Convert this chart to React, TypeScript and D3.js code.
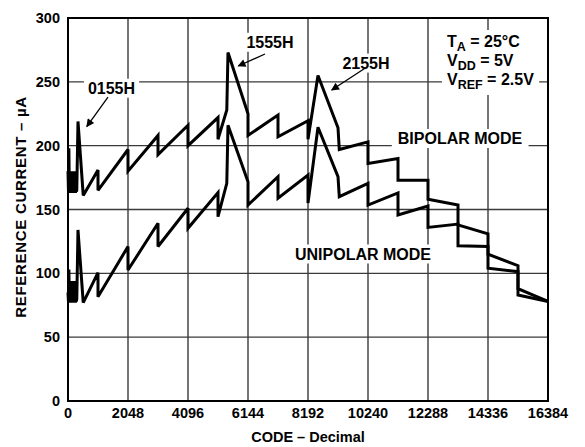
import React, { useLayoutEffect, useRef, useState } from "react";
import * as d3 from "d3";

const W = 585;
const H = 447;
const M = { left: 68, right: 37, top: 18, bottom: 46 };

const xTicks = [0, 2048, 4096, 6144, 8192, 10240, 12288, 14336, 16384];
const yTicks = [0, 50, 100, 150, 200, 250, 300];

// BIPOLAR MODE (code, µA)
const bipolarCode = [0, 15, 30, 45, 60, 75, 90, 105, 120, 135, 150, 165, 180, 195, 210, 225, 240, 255, 270, 285, 300, 341, 520, 1024, 1024, 2048, 2048, 3072, 3072, 4096, 4096, 5120, 5120, 5420, 5461, 6144, 6144, 7168, 7168, 8192, 8192, 8533, 9216, 9260, 10240, 10240, 11264, 11264, 12288, 12288, 13312, 13312, 14336, 14336, 15360, 15360, 16384];
const bipolarVal = [180, 165, 198, 164, 180, 163, 179, 164, 180, 163, 179, 164, 180, 163, 179, 164, 180, 163, 179, 164, 165, 219, 161, 181, 165, 197, 180, 208, 193, 216, 200, 222, 205, 228, 273, 225, 208, 224, 207, 219.5, 205, 255, 214, 197, 203, 186, 190, 173, 173, 158, 153.5, 138, 131, 115, 106, 88, 78];

// UNIPOLAR MODE (code, µA)
const unipolarCode = [0, 15, 30, 45, 60, 75, 90, 105, 120, 135, 150, 165, 180, 195, 210, 225, 240, 255, 270, 285, 300, 341, 520, 1024, 1024, 2048, 2048, 3072, 3072, 4096, 4096, 5120, 5120, 5420, 5461, 6144, 6144, 7168, 7168, 8192, 8192, 8533, 9216, 9260, 10240, 10240, 11264, 11264, 12288, 12288, 13312, 13312, 14336, 14336, 15360, 15360, 16384];
const unipolarVal = [85, 78, 103, 78, 94, 77, 93, 78, 94, 77, 93, 78, 94, 77, 93, 78, 94, 77, 93, 78, 80, 134, 77, 100.5, 81.7, 121, 102.6, 139.2, 121, 151, 135.3, 163.2, 144.4, 170.5, 216, 171.8, 153.5, 175.7, 158.8, 177, 155, 214.4, 175.7, 160, 170.5, 153.5, 163, 145.7, 152.7, 136, 138.6, 121.6, 121, 104, 101.3, 83, 78];

// Arrow annotations: [tailCode, tailVal] -> [headCode, headVal]
const arrowLabels = ["0155H", "1555H", "2155H"];
const arrowTails = [[1365, 238], [6724, 271.8], [10137, 260.6]];
const arrowHeads = [[640, 215], [5812, 262.4], [9000, 243.6]];
const arrowTextPos = [[1485, 245], [6894, 281], [10171, 264.7]];

const FONT = "'Liberation Sans', Arial, Helvetica, sans-serif";
const tb = { fontFamily: FONT, fontWeight: 700 as const };

function BgGroup({ pad, children }: { pad: [number, number]; children: React.ReactNode }) {
  const ref = useRef<SVGGElement>(null);
  const [box, setBox] = useState<{ x: number; y: number; w: number; h: number } | null>(null);
  useLayoutEffect(() => {
    if (ref.current) {
      const b = ref.current.getBBox();
      setBox({ x: b.x, y: b.y, w: b.width, h: b.height });
    }
  }, []);
  return (
    <g>
      {box && (
        <rect x={box.x - pad[0]} y={box.y - pad[1]} width={box.w + 2 * pad[0]} height={box.h + 2 * pad[1]} fill="white" />
      )}
      <g ref={ref}>{children}</g>
    </g>
  );
}

export default function App() {
  const x = d3.scaleLinear().domain([0, 16384]).range([M.left, W - M.right]);
  const y = d3.scaleLinear().domain([0, 300]).range([H - M.bottom, M.top]);

  const line = d3
    .line<[number, number]>()
    .x((d) => x(d[0]))
    .y((d) => y(d[1]));

  const bip: [number, number][] = bipolarCode.map((c, i) => [c, bipolarVal[i]]);
  const uni: [number, number][] = unipolarCode.map((c, i) => [c, unipolarVal[i]]);

  const x0 = x(0), x1 = x(16384), y0 = y(0), y1 = y(300);
  const grid = "#3a3a3a";
  const fs = 16;

  return (
    <svg
      width={W}
      height={H}
      style={{ position: "absolute", left: 0, top: 0, background: "white" }}
    >
      <defs>
        <marker id="ah" viewBox="0 0 10 10" refX="9" refY="5" markerWidth="11" markerHeight="8" orient="auto" markerUnits="userSpaceOnUse">
          <path d="M0,0 L10,5 L0,10 z" fill="black" />
        </marker>
      </defs>
      <rect x={0} y={0} width={W} height={H} fill="white" />

      {/* grid */}
      {xTicks.slice(1, -1).map((t) => (
        <line key={"gx" + t} x1={x(t)} x2={x(t)} y1={y1} y2={y0} stroke={grid} strokeWidth={1.4} />
      ))}
      {yTicks.slice(1, -1).map((t) => (
        <line key={"gy" + t} x1={x0} x2={x1} y1={y(t)} y2={y(t)} stroke={grid} strokeWidth={1.4} />
      ))}

      {/* labels with white backgrounds */}
      {arrowLabels.map((l, i) => (
        <BgGroup key={l} pad={[4, 1]}>
          <text style={tb} fontSize={fs} x={x(arrowTextPos[i][0])} y={y(arrowTextPos[i][1])} textAnchor="middle" dominantBaseline="central">
            {l}
          </text>
        </BgGroup>
      ))}
      <BgGroup pad={[6, 1]}>
        <text style={tb} fontSize={fs} x={460} y={138.5} textAnchor="middle" dominantBaseline="central">BIPOLAR MODE</text>
      </BgGroup>
      <BgGroup pad={[6, 1]}>
        <text style={tb} fontSize={fs} x={363} y={254} textAnchor="middle" dominantBaseline="central">UNIPOLAR MODE</text>
      </BgGroup>
      <BgGroup pad={[5, 3]}>
        <text style={tb} fontSize={fs} x={447} y={47}>
          T<tspan fontSize={12.5} dy={4}>A</tspan><tspan dy={-4}> = 25°C</tspan>
        </text>
        <text style={tb} fontSize={fs} x={447} y={66}>
          V<tspan fontSize={12.5} dy={4}>DD</tspan><tspan dy={-4}> = 5V</tspan>
        </text>
        <text style={tb} fontSize={fs} x={447} y={85}>
          V<tspan fontSize={12.5} dy={4}>REF</tspan><tspan dy={-4}> = 2.5V</tspan>
        </text>
      </BgGroup>

      {/* curves */}
      <path d={line(uni) || ""} fill="none" stroke="black" strokeWidth={3} strokeLinejoin="miter" strokeMiterlimit={3} />
      <path d={line(bip) || ""} fill="none" stroke="black" strokeWidth={3} strokeLinejoin="miter" strokeMiterlimit={3} />

      {/* arrows */}
      {arrowTails.map((t, i) => (
        <line key={"ar" + i} x1={x(t[0])} y1={y(t[1])} x2={x(arrowHeads[i][0])} y2={y(arrowHeads[i][1])} stroke="black" strokeWidth={1.3} markerEnd="url(#ah)" />
      ))}

      {/* border */}
      <rect x={x0} y={y1} width={x1 - x0} height={y0 - y1} fill="none" stroke="black" strokeWidth={2} />

      {/* tick labels */}
      {yTicks.map((t) => (
        <text key={"yt" + t} style={tb} fontSize={14.5} x={60} y={y(t)} textAnchor="end" dominantBaseline="central">{t}</text>
      ))}
      {xTicks.map((t) => (
        <text key={"xt" + t} style={tb} fontSize={14.5} x={x(t)} y={413} textAnchor="middle" dominantBaseline="central">{t}</text>
      ))}

      {/* axis titles */}
      <text style={tb} x={(x0 + x1) / 2} y={437} fontSize={14.5} textAnchor="middle" dominantBaseline="central">CODE – Decimal</text>
      <text style={{ ...tb, letterSpacing: "0.7px" }} transform="translate(20,207) rotate(-90)" fontSize={15} textAnchor="middle" dominantBaseline="central">REFERENCE CURRENT – µA</text>
    </svg>
  );
}
